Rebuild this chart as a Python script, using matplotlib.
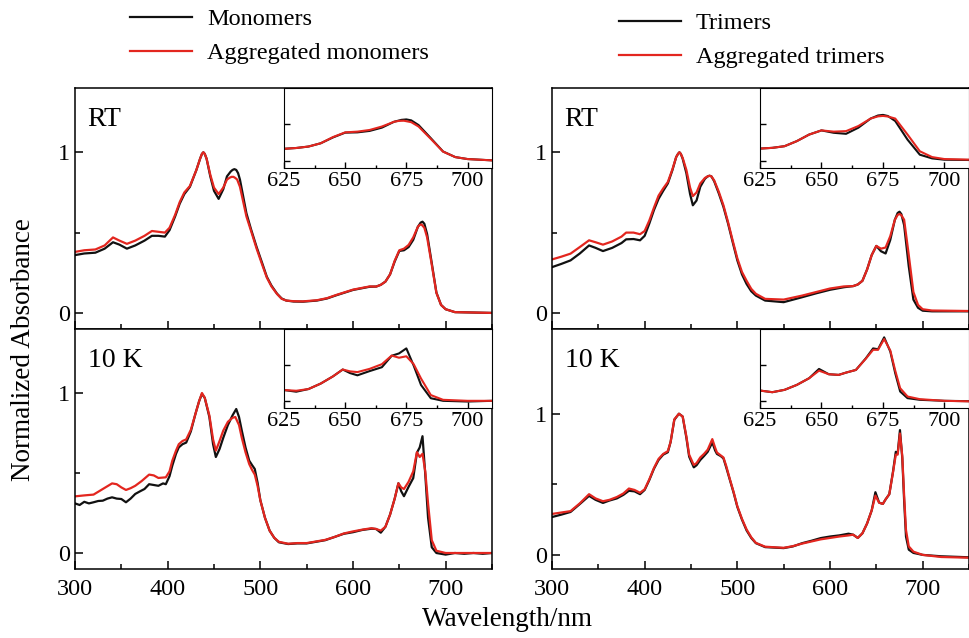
import matplotlib
matplotlib.use("Agg")
import matplotlib.pyplot as plt
from matplotlib.ticker import MultipleLocator, FixedLocator, NullFormatter

plt.rcParams["font.family"] = ["Liberation Serif", "DejaVu Serif"]

BLACK = "#111111"
RED = "#e3261f"

# ---- data (wavelength nm, normalized absorbance) ----
mono_rt_wl = [300, 310, 322, 332, 341, 348, 356, 365, 375, 383, 390, 397, 402, 408, 413, 418,
              424, 431, 435, 437, 438.5, 440, 442, 446, 450, 455, 460, 464, 468, 470, 472, 474,
              476, 478, 485, 490, 496, 502, 507, 512, 518, 523, 528, 536, 546, 561, 572, 582,
              600, 618, 625, 630, 635, 640, 645, 650, 655, 660, 665, 670, 673, 675, 677, 680,
              685, 690, 695, 700, 710, 750]
mono_rt = [0.36, 0.37, 0.375, 0.40, 0.44, 0.425, 0.40, 0.42, 0.45, 0.48, 0.48, 0.475, 0.515,
           0.60, 0.68, 0.74, 0.785, 0.89, 0.96, 0.99, 1.0, 0.99, 0.96, 0.85, 0.76, 0.71, 0.77,
           0.85, 0.88, 0.89, 0.895, 0.89, 0.87, 0.83, 0.62, 0.52, 0.41, 0.31, 0.225, 0.17, 0.12,
           0.09, 0.077, 0.071, 0.07, 0.077, 0.09, 0.11, 0.143, 0.163, 0.164, 0.175, 0.195, 0.24,
           0.32, 0.386, 0.39, 0.41, 0.455, 0.536, 0.562, 0.568, 0.555, 0.49, 0.31, 0.127, 0.05,
           0.023, 0.005, 0.0]

agg_mono_rt_wl = [300, 310, 322, 332, 341, 348, 356, 365, 375, 383, 390, 397, 402, 408, 413, 418,
                  424, 431, 435, 437, 438.5, 440, 442, 446, 450, 455, 460, 464, 467, 469, 471, 473,
                  475, 478, 485, 490, 496, 502, 507, 512, 518, 523, 528, 536, 546, 561, 572, 582,
                  600, 618, 625, 630, 635, 640, 645, 650, 655, 660, 665, 670, 672, 674, 677, 680,
                  685, 690, 695, 700, 710, 750]
agg_mono_rt = [0.38, 0.39, 0.395, 0.42, 0.47, 0.45, 0.43, 0.45, 0.48, 0.51, 0.505, 0.50, 0.53,
               0.61, 0.69, 0.75, 0.79, 0.89, 0.96, 0.99, 1.0, 0.99, 0.96, 0.86, 0.78, 0.74, 0.78,
               0.83, 0.842, 0.847, 0.847, 0.84, 0.83, 0.785, 0.60, 0.51, 0.40, 0.30, 0.22, 0.165,
               0.118, 0.088, 0.077, 0.073, 0.072, 0.079, 0.092, 0.112, 0.145, 0.165, 0.164, 0.175,
               0.195, 0.24, 0.325, 0.39, 0.40, 0.423, 0.47, 0.536, 0.548, 0.55, 0.53, 0.47, 0.30,
               0.125, 0.05, 0.023, 0.005, 0.0]

tri_rt_wl = [300, 310, 320, 330, 340, 347, 355, 365, 375, 380, 388, 395, 400, 405, 410, 415, 420,
             425, 430, 434, 436, 437.5, 439, 441, 445, 449, 452, 456, 460, 465, 468, 470, 472, 475,
             480, 485, 490, 495, 500, 505, 510, 515, 520, 530, 550, 570, 585, 600, 615, 625, 630,
             635, 640, 645, 650, 655, 660, 665, 670, 673, 675, 677, 680, 685, 690, 695, 700, 710,
             750]
tri_rt = [0.285, 0.305, 0.327, 0.37, 0.42, 0.405, 0.385, 0.405, 0.435, 0.458, 0.46, 0.452, 0.48,
          0.556, 0.64, 0.71, 0.76, 0.806, 0.89, 0.97, 0.99, 1.0, 0.99, 0.96, 0.87, 0.74, 0.67,
          0.70, 0.785, 0.835, 0.85, 0.854, 0.85, 0.82, 0.744, 0.66, 0.556, 0.44, 0.327, 0.24,
          0.18, 0.135, 0.108, 0.077, 0.067, 0.098, 0.122, 0.144, 0.16, 0.167, 0.177, 0.2, 0.27,
          0.36, 0.417, 0.384, 0.37, 0.454, 0.58, 0.622, 0.63, 0.615, 0.546, 0.29, 0.083, 0.032,
          0.014, 0.01, 0.01]

agg_tri_rt_wl = tri_rt_wl
agg_tri_rt = [0.333, 0.35, 0.369, 0.41, 0.452, 0.44, 0.425, 0.445, 0.475, 0.50, 0.50, 0.49, 0.51,
              0.575, 0.655, 0.73, 0.775, 0.815, 0.895, 0.97, 0.99, 1.0, 0.99, 0.965, 0.89, 0.78,
              0.727, 0.75, 0.806, 0.84, 0.85, 0.854, 0.85, 0.825, 0.754, 0.67, 0.565, 0.45, 0.34,
              0.255, 0.2, 0.15, 0.119, 0.0875, 0.083, 0.108, 0.13, 0.152, 0.165, 0.167, 0.177, 0.2,
              0.27, 0.36, 0.417, 0.40, 0.407, 0.477, 0.58, 0.61, 0.616, 0.608, 0.58, 0.36, 0.13,
              0.05, 0.023, 0.015, 0.012]

mono_10k_wl = [300, 305, 310, 315, 320, 325, 330, 335, 340, 345, 350, 355, 360, 365, 370, 375,
               380, 385, 390, 395, 398, 402, 405, 409, 412, 416, 420, 425, 430, 434, 437, 440,
               445, 449, 452, 456, 460, 465, 470, 474, 477, 480, 484, 488, 491, 494, 497, 500,
               505, 510, 515, 520, 530, 540, 550, 560, 570, 580, 590, 600, 610, 620, 625, 630,
               635, 640, 645, 649, 652, 655, 660, 665, 669, 672, 675, 678, 681, 685, 690, 700,
               710, 720, 730, 740, 750]
mono_10k = [0.31, 0.30, 0.32, 0.31, 0.317, 0.325, 0.327, 0.34, 0.348, 0.34, 0.3375, 0.317, 0.34,
            0.369, 0.385, 0.40, 0.43, 0.425, 0.42, 0.435, 0.43, 0.48, 0.546, 0.62, 0.66, 0.68,
            0.69, 0.76, 0.87, 0.95, 0.994, 0.97, 0.85, 0.68, 0.60, 0.65, 0.72, 0.80, 0.86, 0.90,
            0.85, 0.765, 0.66, 0.577, 0.55, 0.525, 0.44, 0.33, 0.22, 0.14, 0.095, 0.067, 0.056,
            0.06, 0.06, 0.07, 0.08, 0.10, 0.12, 0.13, 0.144, 0.152, 0.15, 0.127, 0.164, 0.24,
            0.34, 0.436, 0.386, 0.355, 0.414, 0.468, 0.627, 0.66, 0.73, 0.49, 0.22, 0.036, 0.0,
            -0.01, 0.0, -0.005, 0.0, -0.005, 0.0]

agg_mono_10k_wl = [300, 310, 320, 330, 340, 345, 350, 355, 360, 365, 372, 380, 385, 390, 398, 402,
                   405, 409, 412, 416, 420, 425, 430, 434, 437, 440, 445, 449, 452, 456, 460, 465,
                   470, 473, 477, 480, 484, 488, 491, 494, 497, 500, 505, 510, 515, 520, 530, 540,
                   550, 560, 570, 580, 590, 600, 610, 620, 625, 630, 635, 640, 645, 649, 652, 655,
                   660, 665, 669, 672, 675, 678, 681, 685, 690, 700, 750]
agg_mono_10k = [0.354, 0.36, 0.365, 0.40, 0.435, 0.43, 0.41, 0.394, 0.405, 0.42, 0.45, 0.49,
                0.485, 0.469, 0.473, 0.51, 0.577, 0.64, 0.68, 0.70, 0.71, 0.77, 0.87, 0.95, 1.0,
                0.97, 0.86, 0.71, 0.64, 0.70, 0.765, 0.82, 0.845, 0.85, 0.80, 0.72, 0.63, 0.556,
                0.52, 0.49, 0.42, 0.33, 0.22, 0.14, 0.095, 0.07, 0.058, 0.062, 0.062, 0.072, 0.082,
                0.10, 0.122, 0.135, 0.146, 0.155, 0.15, 0.14, 0.164, 0.24, 0.34, 0.436, 0.41, 0.40,
                0.445, 0.51, 0.63, 0.60, 0.62, 0.51, 0.31, 0.08, 0.014, 0.0, 0.0]

tri_10k_wl = [300, 310, 320, 330, 340, 347, 355, 362, 370, 377, 383, 389, 395, 400, 405, 410, 415,
              420, 425, 428, 432, 437, 441, 445, 448, 453, 456, 460, 464, 468, 471, 473, 476, 478,
              482, 485, 488, 492, 496, 500, 505, 510, 515, 520, 530, 550, 560, 570, 580, 590, 600,
              610, 620, 625, 630, 635, 640, 645, 649, 653, 657, 660, 664, 668, 671, 673, 675.5,
              678, 680, 682, 685, 690, 700, 720, 750]
tri_10k = [0.268, 0.285, 0.304, 0.36, 0.418, 0.39, 0.368, 0.385, 0.40, 0.425, 0.454, 0.45, 0.43,
           0.46, 0.53, 0.61, 0.672, 0.71, 0.727, 0.80, 0.957, 1.0, 0.98, 0.83, 0.696, 0.62, 0.635,
           0.672, 0.70, 0.73, 0.77, 0.796, 0.74, 0.715, 0.70, 0.684, 0.62, 0.53, 0.44, 0.34, 0.25,
           0.173, 0.12, 0.083, 0.055, 0.048, 0.06, 0.083, 0.10, 0.119, 0.13, 0.138, 0.15, 0.143,
           0.12, 0.153, 0.222, 0.315, 0.444, 0.37, 0.361, 0.393, 0.43, 0.59, 0.73, 0.718, 0.884,
           0.685, 0.384, 0.13, 0.037, 0.014, 0.0, -0.01, -0.017]

agg_tri_10k_wl = tri_10k_wl
agg_tri_10k = [0.29, 0.30, 0.31, 0.365, 0.43, 0.40, 0.38, 0.39, 0.41, 0.435, 0.47, 0.46, 0.44,
               0.465, 0.535, 0.615, 0.68, 0.715, 0.735, 0.80, 0.96, 1.0, 0.98, 0.84, 0.71, 0.637,
               0.65, 0.69, 0.715, 0.745, 0.79, 0.82, 0.76, 0.725, 0.705, 0.69, 0.63, 0.535, 0.445,
               0.345, 0.255, 0.18, 0.125, 0.085, 0.058, 0.05, 0.062, 0.08, 0.095, 0.11, 0.12, 0.13,
               0.138, 0.143, 0.12, 0.153, 0.222, 0.315, 0.42, 0.37, 0.361, 0.393, 0.43, 0.585,
               0.71, 0.71, 0.86, 0.70, 0.42, 0.176, 0.06, 0.023, 0.0, -0.015, -0.02]

panel_labels = ["RT", "RT", "10 K", "10 K"]
legend_left = ["Monomers", "Aggregated monomers"]
legend_right = ["Trimers", "Aggregated trimers"]

W, H = 969, 638
fig = plt.figure(figsize=(W / 100, H / 100), dpi=100)


def px_axes(x0, y0, x1, y1):
    # pixel box (left, top, right, bottom) -> figure axes
    return fig.add_axes([x0 / W, 1 - y1 / H, (x1 - x0) / W, (y1 - y0) / H])


def style_main(ax, ymax, show_x):
    ax.set_xlim(300, 750)
    ax.set_ylim(-0.1, ymax)
    ax.xaxis.set_major_locator(MultipleLocator(100))
    ax.xaxis.set_minor_locator(MultipleLocator(50))
    ax.yaxis.set_major_locator(FixedLocator([0, 1]))
    ax.yaxis.set_minor_locator(FixedLocator([0.5]))
    ax.tick_params(which="both", direction="in", labelsize=17.5, width=1.1)
    ax.tick_params(which="major", length=6)
    ax.tick_params(which="minor", length=3.5)
    ax.tick_params(axis="x", pad=7)
    if not show_x:
        ax.tick_params(axis="x", labelbottom=False)
    for s in ax.spines.values():
        s.set_linewidth(1.1)


def add_inset(ax_box, wl_a, a, wl_b, b):
    ins = px_axes(*ax_box)
    ins.plot(wl_a, a, color=BLACK, lw=1.5)
    ins.plot(wl_b, b, color=RED, lw=1.5)
    ins.set_xlim(625, 710)
    ins.set_ylim(-0.1, 1.0)
    ins.xaxis.set_major_locator(FixedLocator([625, 650, 675, 700]))
    ins.xaxis.set_minor_locator(MultipleLocator(12.5))
    ins.yaxis.set_major_locator(FixedLocator([0, 0.5]))
    ins.yaxis.set_major_formatter(NullFormatter())
    ins.tick_params(which="both", direction="in", labelsize=16, width=1.0, pad=3)
    ins.tick_params(which="major", length=4)
    ins.tick_params(which="minor", length=2.5)
    return ins


panels = [
    ((75, 88, 492, 329), 1.4, False, mono_rt_wl, mono_rt, agg_mono_rt_wl, agg_mono_rt, (284, 88, 492, 168)),
    ((552, 88, 969, 329), 1.4, False, tri_rt_wl, tri_rt, agg_tri_rt_wl, agg_tri_rt, (760, 88, 969, 168)),
    ((75, 329, 492, 569), 1.4, True, mono_10k_wl, mono_10k, agg_mono_10k_wl, agg_mono_10k, (284, 329, 492, 408)),
    ((552, 329, 969, 569), 1.6, True, tri_10k_wl, tri_10k, agg_tri_10k_wl, agg_tri_10k, (760, 329, 969, 408)),
]

handles = []
for i, (box, ymax, show_x, wa, a, wb, b, ibox) in enumerate(panels):
    ax = px_axes(*box)
    la, = ax.plot(wa, a, color=BLACK, lw=1.6)
    lb, = ax.plot(wb, b, color=RED, lw=1.6)
    handles.append((la, lb))
    style_main(ax, ymax, show_x)
    ax.text(0.03, 0.87, panel_labels[i], transform=ax.transAxes, fontsize=20,
            ha="left", va="center")
    add_inset(ibox, wa, a, wb, b)

leg_kw = dict(loc="upper left", frameon=False, fontsize=17.5, handlelength=2.55,
              handletextpad=0.62, labelspacing=0.5, borderpad=0, borderaxespad=0)
fig.legend(handles[0], legend_left, bbox_to_anchor=(130 / W, 1 - 8 / H), **leg_kw)
fig.legend(handles[1], legend_right, bbox_to_anchor=(619 / W, 1 - 12 / H), **leg_kw)

fig.text(24 / W, 1 - 350 / H, "Normalized Absorbance", rotation=90, fontsize=19.5,
         ha="center", va="center")
fig.text(507 / W, 1 - 620 / H, "Wavelength/nm", fontsize=19.5, ha="center", va="center")

fig.savefig("out.png", dpi=100)
